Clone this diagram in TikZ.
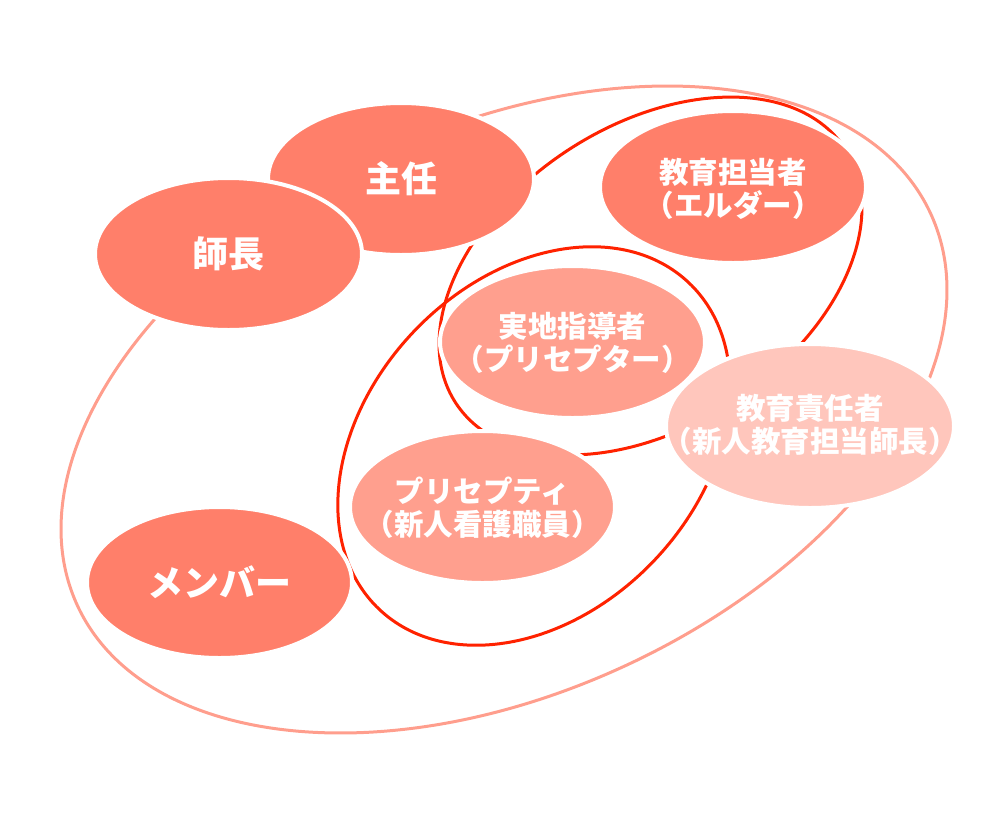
\documentclass[tikz,border=0pt]{standalone}
\usepackage{fontspec}
\setmainfont{Noto Sans CJK JP}
\usetikzlibrary{shapes.geometric}
\definecolor{cdark}{HTML}{FF7F6A}
\definecolor{cmid}{HTML}{FF9F8E}
\definecolor{clight}{HTML}{FFC6BC}
\definecolor{couter}{HTML}{FF9E8D}
\definecolor{cred}{HTML}{FF2200}
\tikzset{
  ring/.style={ellipse, draw, inner sep=0pt, line width=3pt},
  blob/.style={ellipse, draw=white, line width=4pt, inner sep=0pt},
  bigtxt/.style={text=white, font=\bfseries\fontsize{36}{40}\selectfont, inner sep=0pt},
  smalltxt/.style={text=white, font=\bfseries\fontsize{29.5}{33}\selectfont, inner sep=0pt, align=center}
}
\begin{document}
\begin{tikzpicture}[x=1pt,y=-1pt]
\useasboundingbox (0,0) rectangle (1000,830);
% outline ellipses
\node[ring, draw=couter, minimum width=939pt, minimum height=567pt, rotate=24.6] (outer) at (504,409.5) {};
\node[ring, draw=cred, minimum width=465pt, minimum height=301pt, rotate=33.1] (redA) at (650.5,276) {};
\node[ring, draw=cred, minimum width=450pt, minimum height=332pt, rotate=46.5] (redB) at (534,446) {};
% filled ellipses
\node[blob, fill=cdark, minimum width=266pt, minimum height=152pt] (shunin) at (401,179) {};
\node[blob, fill=cdark, minimum width=267pt, minimum height=152pt] (shicho) at (228.5,254) {};
\node[blob, fill=cdark, minimum width=266pt, minimum height=152pt] (kyoiku) at (733,187) {};
\node[blob, fill=cmid, minimum width=265pt, minimum height=152pt] (jicchi) at (572.5,342) {};
\node[blob, fill=clight, minimum width=288pt, minimum height=164pt] (sekinin) at (810,426) {};
\node[blob, fill=cmid, minimum width=265pt, minimum height=152pt] (preceptee) at (482.5,507) {};
\node[blob, fill=cdark, minimum width=265pt, minimum height=151pt] (member) at (219.5,582.5) {};
% texts
\node[bigtxt] (tShunin) at (shunin.center) {主任};
\node[bigtxt] (tShicho) at ([yshift=0pt]shicho.center) {師長};
\node[bigtxt] (tMember) at ([yshift=0pt]member.center) {メンバー};
\node[smalltxt] (tKyoiku) at ([yshift=-2pt]kyoiku.center) {教育担当者\\（エルダー）};
\node[smalltxt] (tJicchi) at ([yshift=-1pt]jicchi.center) {実地指導者\\（プリセプター）};
\node[smalltxt] (tSekinin) at ([yshift=1pt]sekinin.center) {教育責任者\\（新人教育担当師長）};
\node[smalltxt] (tPreceptee) at ([yshift=-1pt]preceptee.center) {プリセプティ\\（新人看護職員）};
\end{tikzpicture}
\end{document}
